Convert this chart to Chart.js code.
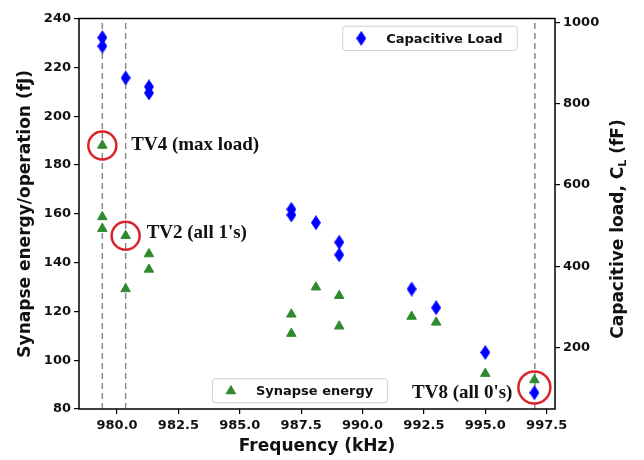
<!DOCTYPE html>
<html>
<head>
<meta charset="utf-8">
<script src="https://cdn.jsdelivr.net/npm/chart.js@4/dist/chart.umd.min.js"></script>
<style>
  html, body { margin: 0; padding: 0; background: #fff; }
</style>
</head>
<body>
<canvas id="graph1" width="644" height="460"></canvas>
<script>
// capacitive load (right axis, fF)
const capFreq = [979.4, 979.4, 980.35, 981.3, 981.3, 987.1, 987.1, 988.1, 989.05, 989.05, 992.0, 993.0, 995.0, 997.0];
const capLoad = [962, 941, 863, 841, 826, 540, 526, 507, 459, 428, 344, 298, 188, 89];

// synapse energy (left axis, fJ)
const synFreq = [979.4, 979.4, 979.4, 980.35, 980.35, 981.3, 981.3, 987.1, 987.1, 988.1, 989.05, 989.05, 992.0, 993.0, 995.0, 997.0];
const synEnergy = [188, 158.7, 153.9, 151, 129.2, 143.5, 137.2, 118.8, 110.9, 129.9, 126.4, 113.9, 117.9, 115.5, 94.5, 91.9];

// circled test vectors
const markFreq = [979.4, 980.35, 997.0];
const markEnergy = [188, 151, 88.8];
const markLabels = ["TV4 (max load)", "TV2 (all 1's)", "TV8 (all 0's)"];

// dashed guide lines
const guideFreq = [979.4, 980.35, 997.02];

const xTicks = [980, 982.5, 985, 987.5, 990, 992.5, 995, 997.5];
const leftTicks = [80, 100, 120, 140, 160, 180, 200, 220, 240];
const rightTicks = [200, 400, 600, 800, 1000];

// label placement relative to the circled point (px)
const labelShift = [[29, 0], [21, -3], [-22, 6]];
const markRadius = [14, 14, 16];

const BLUE = '#0000ff';
const GREEN = '#2f8a2f';
const FONT = '"DejaVu Sans", sans-serif';

// thin diamond marker
const diamond = document.createElement('canvas');
diamond.width = 10; diamond.height = 15;
(function () {
  const c = diamond.getContext('2d');
  c.fillStyle = BLUE;
  c.beginPath();
  c.moveTo(5, 0); c.lineTo(10, 7.5); c.lineTo(5, 15); c.lineTo(0, 7.5);
  c.closePath(); c.fill();
})();

const guideSets = guideFreq.map(f => ({
  type: 'line',
  data: [{x: f, y: 80}, {x: f, y: 240}],
  yAxisID: 'y',
  borderColor: '#888',
  borderWidth: 1.5,
  borderDash: [6, 4],
  pointRadius: 0,
  order: 3,
}));

function legendBox(ctx, x, y, w, h, drawMarker, text) {
  ctx.save();
  ctx.fillStyle = 'rgba(255,255,255,0.85)';
  ctx.strokeStyle = '#d0d0d0';
  ctx.lineWidth = 1;
  ctx.beginPath();
  ctx.roundRect(x, y, w, h, 3);
  ctx.fill(); ctx.stroke();
  drawMarker(x + 18.5, y + h / 2);
  ctx.fillStyle = '#111';
  ctx.font = 'bold 13px ' + FONT;
  ctx.textAlign = 'left';
  ctx.textBaseline = 'middle';
  ctx.fillText(text, x + 43.5, y + h / 2 + 1);
  ctx.restore();
}

const extras = {
  id: 'extras',
  afterDatasetsDraw(chart) {
    const {ctx, chartArea: a, scales} = chart;
    ctx.save();
    ctx.strokeStyle = '#000';
    ctx.lineWidth = 1.5;
    ctx.strokeRect(a.left, a.top, a.right - a.left, a.bottom - a.top);

    ctx.font = 'bold 19px "Liberation Serif", serif';
    ctx.fillStyle = '#111';
    ctx.textBaseline = 'middle';
    markLabels.forEach((t, i) => {
      const px = scales.x.getPixelForValue(markFreq[i]) + labelShift[i][0];
      const py = scales.y.getPixelForValue(markEnergy[i]) + labelShift[i][1];
      ctx.textAlign = labelShift[i][0] < 0 ? 'right' : 'left';
      ctx.fillText(t, px, py);
    });

    legendBox(ctx, a.right - 212.3, a.top + 7.7, 174.6, 24.3, (mx, my) => {
      ctx.drawImage(diamond, mx - 5, my - 7.5);
    }, 'Capacitive Load');
    legendBox(ctx, a.left + 133.4, a.bottom - 30.3, 175, 24, (mx, my) => {
      ctx.fillStyle = GREEN;
      ctx.beginPath();
      ctx.moveTo(mx, my - 6); ctx.lineTo(mx + 5.5, my + 3.5); ctx.lineTo(mx - 5.5, my + 3.5);
      ctx.closePath(); ctx.fill();
    }, 'Synapse energy');

    // right axis title with subscript
    ctx.translate(619, 229);
    ctx.rotate(-Math.PI / 2);
    ctx.fillStyle = '#111';
    ctx.textAlign = 'left';
    ctx.textBaseline = 'middle';
    const big = 'bold 17px ' + FONT, small = 'bold 11px ' + FONT;
    const p1 = 'Capacitive load, C', p2 = 'L', p3 = ' (fF)';
    ctx.font = big; const w1 = ctx.measureText(p1).width, w3 = ctx.measureText(p3).width;
    ctx.font = small; const w2 = ctx.measureText(p2).width;
    let sx = -(w1 + w2 + w3) / 2;
    ctx.font = big; ctx.fillText(p1, sx, 0); sx += w1;
    ctx.font = small; ctx.fillText(p2, sx, 4); sx += w2;
    ctx.font = big; ctx.fillText(p3, sx, 0);
    ctx.restore();
  }
};

const tickGrid = {display: true, drawOnChartArea: false, drawTicks: true, tickLength: 5, color: '#000', lineWidth: 1.2};
const tickFont = {family: FONT, size: 13, weight: 'bold'};
const titleFont = {family: FONT, size: 17, weight: 'bold'};

new Chart(document.getElementById('graph1').getContext('2d'), {
  type: 'scatter',
  data: {
    datasets: [
      {
        label: 'Capacitive Load',
        data: capFreq.map((f, i) => ({x: f, y: capLoad[i]})),
        yAxisID: 'y1',
        pointStyle: diamond,
        pointRadius: 7,
        order: 1,
      },
      {
        label: 'Synapse energy',
        data: synFreq.map((f, i) => ({x: f, y: synEnergy[i]})),
        yAxisID: 'y',
        pointStyle: 'triangle',
        pointRadius: 5.5,
        backgroundColor: GREEN,
        borderColor: GREEN,
        borderWidth: 1,
        order: 2,
      },
      {
        label: 'marks',
        data: markFreq.map((f, i) => ({x: f, y: markEnergy[i]})),
        yAxisID: 'y',
        pointStyle: 'circle',
        pointRadius: markRadius,
        backgroundColor: 'rgba(0,0,0,0)',
        borderColor: '#d9242b',
        borderWidth: 2.5,
        order: 0,
      },
      ...guideSets,
    ],
  },
  options: {
    responsive: false,
    animation: false,
    devicePixelRatio: 1,
    layout: {padding: {top: 8, left: 0, right: 0, bottom: 0}},
    plugins: {legend: {display: false}, tooltip: {enabled: false}},
    scales: {
      x: {
        type: 'linear',
        min: 978.45,
        max: 997.84,
        afterBuildTicks: s => { s.ticks = xTicks.map(v => ({value: v})); },
        afterFit: s => { s.height = 51; },
        border: {display: false},
        grid: tickGrid,
        ticks: {color: '#111', font: tickFont, padding: 4, maxRotation: 0,
          callback: v => v.toFixed(1)},
        title: {display: true, text: 'Frequency (kHz)', color: '#111', font: titleFont,
          padding: {top: 0, bottom: 3}},
      },
      y: {
        position: 'left',
        min: 80,
        max: 240,
        afterBuildTicks: s => { s.ticks = leftTicks.map(v => ({value: v})); },
        afterFit: s => { s.width = 79; },
        border: {display: false},
        grid: tickGrid,
        ticks: {color: '#111', font: tickFont, padding: 3, callback: v => String(v)},
        title: {display: true, text: 'Synapse energy/operation (fJ)', color: '#111', font: titleFont,
          padding: {top: 15, bottom: 0}},
      },
      y1: {
        position: 'right',
        min: 49,
        max: 1009,
        afterBuildTicks: s => { s.ticks = rightTicks.map(v => ({value: v})); },
        afterFit: s => { s.width = 89; },
        border: {display: false},
        grid: tickGrid,
        ticks: {color: '#111', font: tickFont, padding: 3, callback: v => String(v)},
      },
    },
  },
  plugins: [extras],
});
</script>
</body>
</html>
